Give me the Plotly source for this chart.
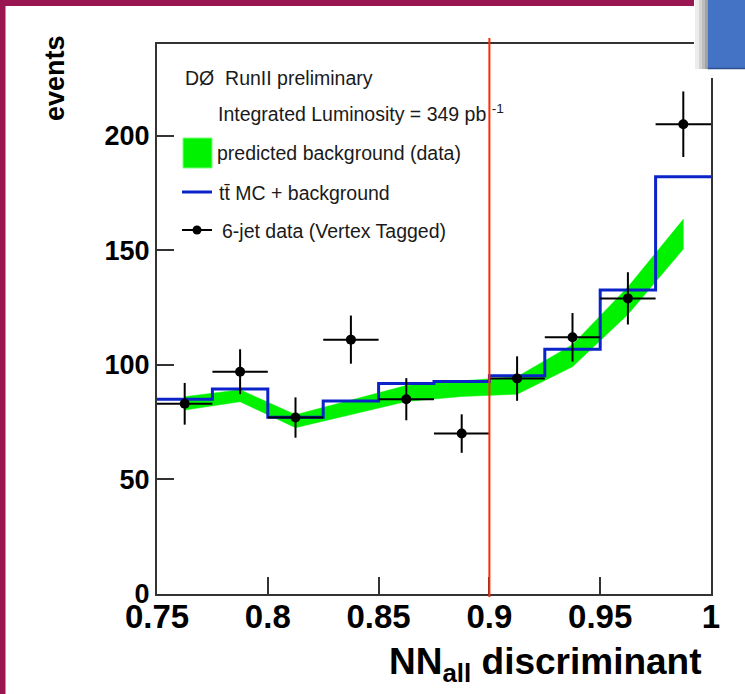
import plotly.graph_objects as go

# ---------------- data ----------------
bin_edges = [0.75, 0.775, 0.80, 0.825, 0.85, 0.875, 0.90, 0.925, 0.95, 0.975, 1.0]
bin_centers = [0.7625, 0.7875, 0.8125, 0.8375, 0.8625, 0.8875, 0.9125, 0.9375, 0.9625, 0.9875]

data_counts = [83, 97, 77, 111, 85, 70, 94, 112, 129, 205]
data_errors = [9.1, 9.8, 8.8, 10.5, 9.2, 8.4, 9.7, 10.6, 11.4, 14.3]

mc_plus_bkg = [85.0, 89.5, 77.1, 84.2, 91.9, 92.7, 95.2, 106.8, 132.7, 182.1]

bkg_center = [83.2, 86.5, 75.4, 81.5, 87.5, 89.6, 91.0, 104.0, 128.0, 157.0]
bkg_halfwidth = [2.9, 2.6, 2.8, 3.2, 3.5, 3.4, 3.8, 4.8, 6.0, 6.5]

x_ticks = [0.75, 0.80, 0.85, 0.90, 0.95, 1.0]
x_ticklabels = ["0.75", "0.8", "0.85", "0.9", "0.95", "1"]
y_ticks = [0, 50, 100, 150, 200]
y_ticklabels = ["0", "50", "100", "150", "200"]

CUT = 0.9
X_RANGE = [0.75, 1.0]
Y_RANGE = [0, 240]

# ---------------- page geometry ----------------
W, H = 745, 694
ML, MR, MT, MB = 157, 34, 44, 100
PW, PH = W - ML - MR, H - MT - MB


def PX(px):
    return (px - ML) / PW


def PY(py):
    return (H - MB - py) / PH


FONT = "Liberation Sans"
BLUE = "#0b24c9"
GREEN = "#00f200"
RED = "#ff2a00"

fig = go.Figure()

# green band: predicted background
upper = [c + h for c, h in zip(bkg_center, bkg_halfwidth)]
lower = [c - h for c, h in zip(bkg_center, bkg_halfwidth)]
fig.add_trace(go.Scatter(
    x=bin_centers + bin_centers[::-1],
    y=upper + lower[::-1],
    fill="toself", fillcolor=GREEN, mode="lines",
    line=dict(width=0.5, color=GREEN), hoverinfo="skip", showlegend=False))

# blue histogram: ttbar MC + background
fig.add_trace(go.Scatter(
    x=bin_edges, y=mc_plus_bkg + [mc_plus_bkg[-1]],
    mode="lines", line=dict(color=BLUE, width=3, shape="hv"),
    showlegend=False))

# data points
half_w = [(bin_edges[i + 1] - bin_edges[i]) / 2 for i in range(len(bin_centers))]
fig.add_trace(go.Scatter(
    x=bin_centers, y=data_counts, mode="markers",
    marker=dict(color="black", size=10),
    error_y=dict(type="data", array=data_errors, color="black", thickness=2, width=0),
    error_x=dict(type="data", array=half_w, color="black", thickness=2, width=0),
    showlegend=False))

shapes = []
# cut line
shapes.append(dict(type="line", xref="x", yref="paper", x0=CUT, x1=CUT,
                   y0=PY(597), y1=PY(38), line=dict(color=RED, width=2), layer="above"))

# slide decorations
MAROON = "#991651"
shapes.append(dict(type="rect", xref="paper", yref="paper", x0=PX(0), x1=PX(694),
                   y0=PY(0), y1=PY(6), fillcolor=MAROON, line=dict(width=0), layer="above"))
shapes.append(dict(type="rect", xref="paper", yref="paper", x0=PX(0), x1=PX(5.5),
                   y0=PY(0), y1=PY(694), fillcolor=MAROON, line=dict(width=0), layer="above"))
shapes.append(dict(type="rect", xref="paper", yref="paper", x0=PX(694), x1=PX(745),
                   y0=PY(0), y1=PY(78), fillcolor="white", line=dict(width=0), layer="above"))
for a, b, c in [(695, 699, "#ececec"), (699, 702, "#d4d4d4"), (702, 705, "#bcbcbc"), (705, 707.5, "#a2a2a2")]:
    shapes.append(dict(type="rect", xref="paper", yref="paper", x0=PX(a), x1=PX(b),
                       y0=PY(0), y1=PY(69), fillcolor=c, line=dict(width=0), layer="above"))
shapes.append(dict(type="rect", xref="paper", yref="paper", x0=PX(707.5), x1=PX(745),
                   y0=PY(0), y1=PY(68), fillcolor="#4472c4", line=dict(width=0), layer="above"))
shapes.append(dict(type="line", xref="paper", yref="paper", x0=PX(707.5), x1=PX(745),
                   y0=PY(68.5), y1=PY(68.5), line=dict(color="#2f528f", width=1.5), layer="above"))

# legend glyphs
shapes.append(dict(type="rect", xref="paper", yref="paper", x0=PX(183), x1=PX(212),
                   y0=PY(168), y1=PY(138), fillcolor=GREEN, line=dict(color="#7dff7d", width=1), layer="above"))
shapes.append(dict(type="line", xref="paper", yref="paper", x0=PX(182), x1=PX(212),
                   y0=PY(192), y1=PY(192), line=dict(color=BLUE, width=3), layer="above"))
shapes.append(dict(type="line", xref="paper", yref="paper", x0=PX(182), x1=PX(212),
                   y0=PY(230), y1=PY(230), line=dict(color="black", width=2), layer="above"))
shapes.append(dict(type="circle", xref="paper", yref="paper", x0=PX(192.5), x1=PX(201.5),
                   y0=PY(234.5), y1=PY(225.5), fillcolor="black", line=dict(width=0), layer="above"))

LEG = dict(family=FONT, size=19.5, color="#1a1a1a")
annotations = []
for txt, xl, yc in [
    ("D\u00d8  RunII preliminary", 183, 78),
    ("Integrated Luminosity = 349 pb <sup>-1</sup>", 216, 113),
    ("predicted background (data)", 215, 153),
    ("tt\u0304 MC + background", 217, 193),
    ("6-jet data (Vertex Tagged)", 220, 231),
]:
    annotations.append(dict(text=txt, xref="paper", yref="paper", x=PX(xl), y=PY(yc),
                            xanchor="left", yanchor="middle", showarrow=False, font=LEG))

# axis titles
annotations.append(dict(text="NN<sub>all</sub> discriminant", xref="paper", yref="paper",
                        x=PX(704), y=PY(664), xanchor="right", yanchor="middle", showarrow=False,
                        font=dict(family=FONT, size=37, color="black", weight="bold")))
annotations.append(dict(text="events", xref="paper", yref="paper", textangle=-90,
                        x=PX(55), y=PY(78), xanchor="center", yanchor="middle", showarrow=False,
                        font=dict(family=FONT, size=27, color="black", weight="bold")))

fig.update_layout(
    width=W, height=H,
    margin=dict(l=ML, r=MR, t=MT, b=MB, pad=0),
    paper_bgcolor="white", plot_bgcolor="white",
    showlegend=False,
    shapes=shapes, annotations=annotations,
    xaxis=dict(range=X_RANGE, tickvals=x_ticks, ticktext=x_ticklabels,
               ticks="inside", ticklen=17, tickwidth=1.5, tickcolor="#333",
               showline=True, linecolor="#333", linewidth=2, mirror=True,
               showgrid=False, zeroline=False, ticklabelstandoff=-8,
               tickfont=dict(family=FONT, size=33, color="black", weight="bold")),
    yaxis=dict(range=Y_RANGE, tickvals=y_ticks, ticktext=y_ticklabels,
               ticks="inside", ticklen=17, tickwidth=1.5, tickcolor="#333",
               showline=True, linecolor="#333", linewidth=2, mirror=True,
               showgrid=False, zeroline=False,
               tickfont=dict(family=FONT, size=27, color="black", weight="bold")),
)

fig.write_html("out.html")
